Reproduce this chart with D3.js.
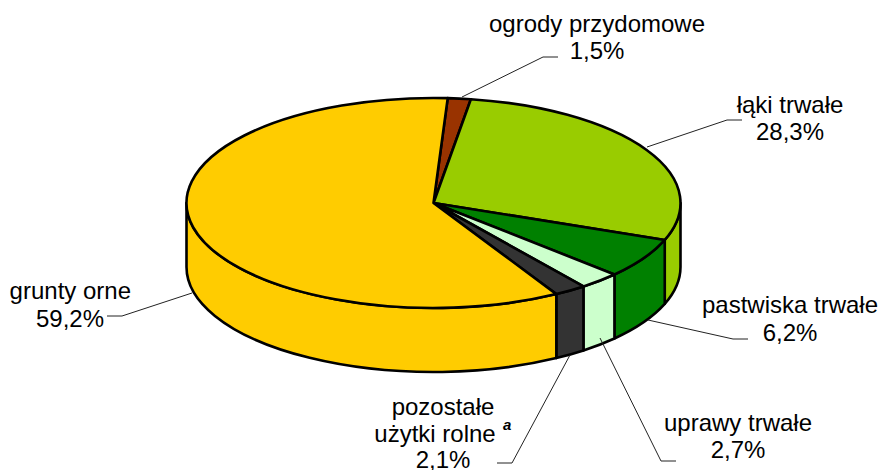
<!DOCTYPE html>
<html><head><meta charset="utf-8">
<script src="https://cdnjs.cloudflare.com/ajax/libs/d3/7.8.5/d3.min.js"></script>
<style>html,body{margin:0;padding:0;background:#fff}svg{display:block}text{font-family:"Liberation Sans",Arial,sans-serif;font-size:24px;fill:#000}</style>
</head><body><svg id="c" width="881" height="470"></svg>
<script>
const categories=["ogrody przydomowe","łąki trwałe","pastwiska trwałe","uprawy trwałe","pozostałe użytki rolne","grunty orne"];
const values=[1.5,28.3,6.2,2.7,2.1,59.2];
const valueLabels=["1,5%","28,3%","6,2%","2,7%","2,1%","59,2%"];
const colors=["#993300","#99CC00","#008000","#CCFFCC","#333333","#FFCC00"];

const W=881,H=470,cx=433.5,cy=203,rx=247,ry=105,depth=64;
const svg=d3.select("#c");
const start=3.3*Math.PI/180;
const arcs=d3.pie().sort(null).startAngle(start).endAngle(start+2*Math.PI)(values);
const px=a=>cx+rx*Math.sin(a), py=a=>cy-ry*Math.cos(a);
const arcTo=(a,dy,sweep,large)=>`A${rx},${ry} 0 ${large?1:0} ${sweep} ${px(a)},${py(a)+dy}`;

const lo=Math.PI/2, hi=3*Math.PI/2;
arcs.forEach(d=>{
  const a0=Math.max(d.startAngle,lo), a1=Math.min(d.endAngle,hi);
  if(a1<=a0) return;
  const big=a1-a0>Math.PI;
  svg.append("path")
    .attr("d",`M${px(a0)},${py(a0)} ${arcTo(a1,0,1,big)} L${px(a1)},${py(a1)+depth} ${arcTo(a0,depth,0,big)} Z`)
    .attr("fill",colors[d.index]).attr("stroke","#000").attr("stroke-width",2.6).attr("stroke-linejoin","round");
});
arcs.forEach(d=>{
  const big=d.endAngle-d.startAngle>Math.PI;
  svg.append("path")
    .attr("d",`M${cx},${cy} L${px(d.startAngle)},${py(d.startAngle)} ${arcTo(d.endAngle,0,1,big)} Z`)
    .attr("fill",colors[d.index]).attr("stroke","#000").attr("stroke-width",2.6).attr("stroke-linejoin","round");
});

const layout=[
 {lines:[categories[0],valueLabels[0]],xs:[597,597],y:[32,59],anchor:"middle",lead:[[462,97],[543,57],[558,57]]},
 {lines:[categories[1],valueLabels[1]],xs:[790,790],y:[113,140],anchor:"middle",lead:[[647,147],[727,120],[742,120]]},
 {lines:[categories[2],valueLabels[2]],xs:[790,790],y:[313,341],anchor:"middle",lead:[[648,320],[733,339],[748,339]]},
 {lines:[categories[3],valueLabels[3]],xs:[738,738],y:[431,458],anchor:"middle",lead:[[600,338],[661,461],[676,461]]},
 {lines:["pozostałe","użytki rolne",valueLabels[4]],xs:[443,435,443],y:[415,442,468],anchor:"middle",lead:[[570,355],[512,463],[497,463]]},
 {lines:[categories[5],valueLabels[5]],xs:[131,104],y:[299,327],anchor:"end",lead:[[192,293],[122,316],[107,316]]}
];
const line=d3.line();
layout.forEach(l=>{
  svg.append("path").attr("d",line(l.lead)).attr("fill","none").attr("stroke","#222").attr("stroke-width",1);
  l.lines.forEach((t,i)=>{
    svg.append("text").attr("x",l.xs[i]).attr("y",l.y[i]).attr("text-anchor",l.anchor).text(t);
  });
});
svg.append("text").attr("x",503).attr("y",430).style("font-size","15px").style("font-weight","bold").style("font-style","italic").text("a");
</script></body></html>
